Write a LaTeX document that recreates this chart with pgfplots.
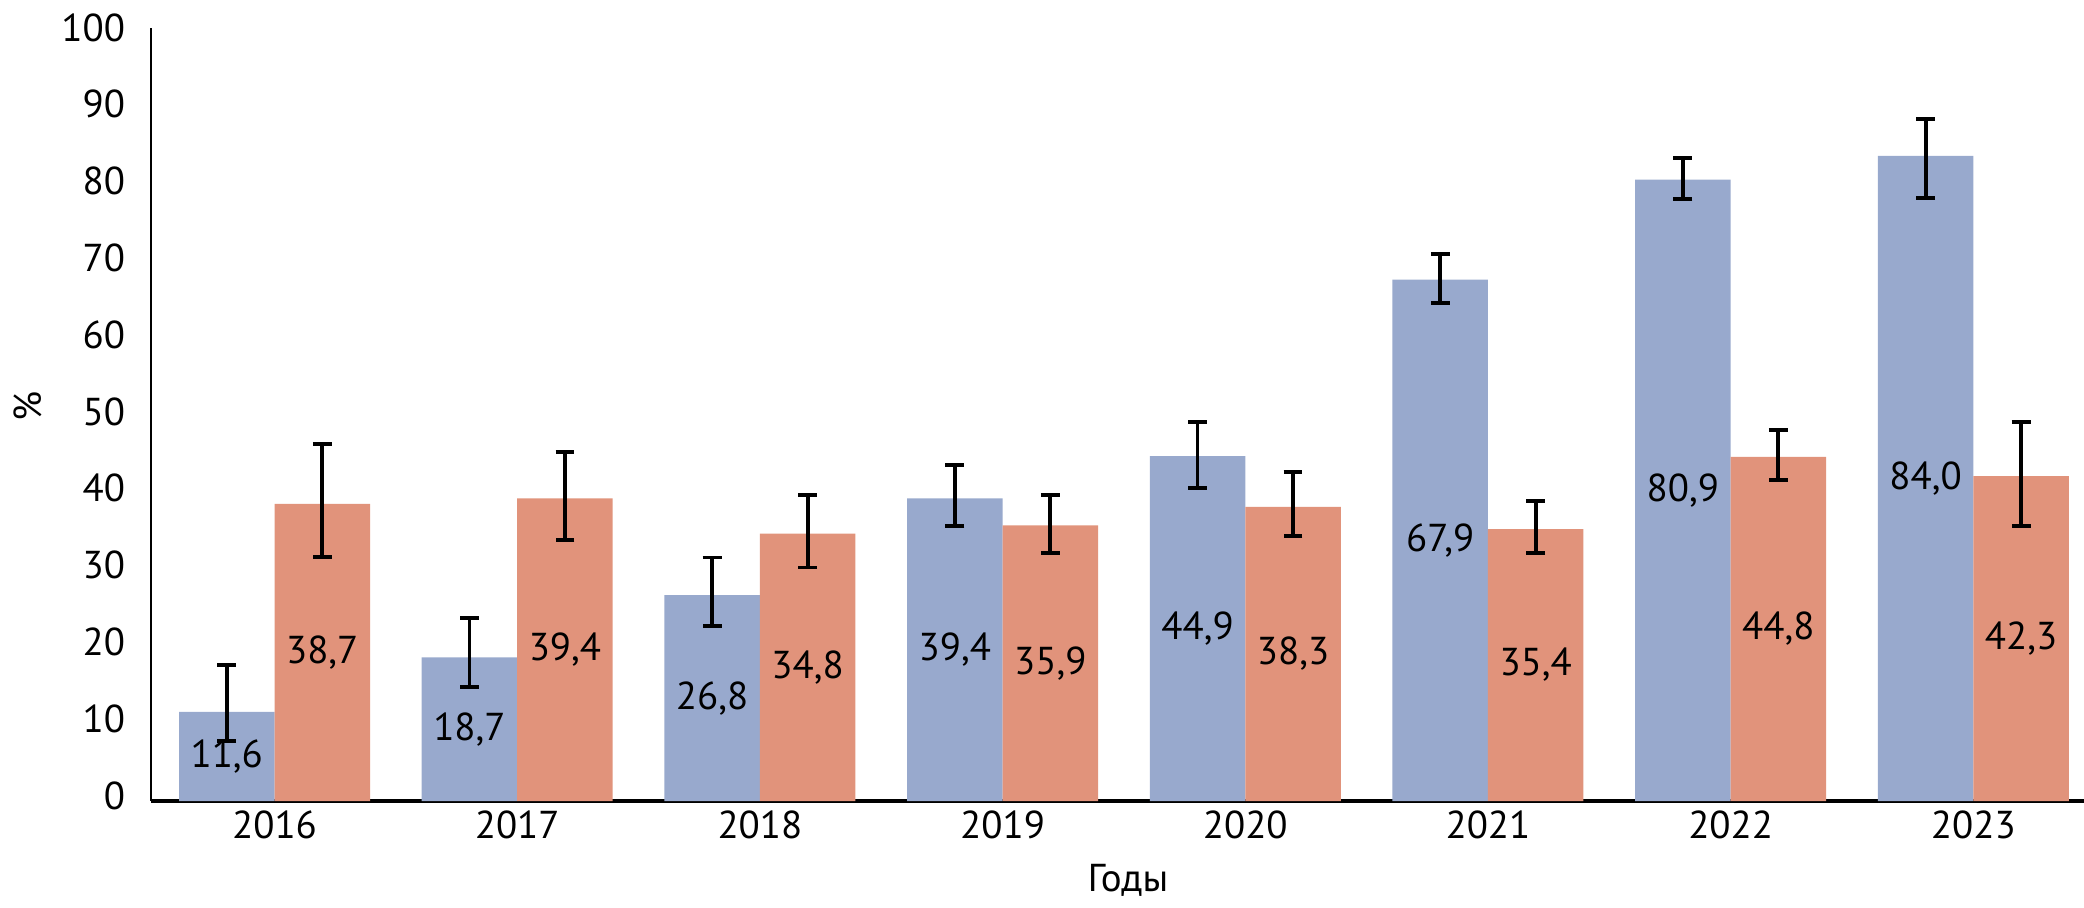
\documentclass[border=0pt]{standalone}
\usepackage{pgfplots}
\pgfplotsset{compat=1.18}
\usepackage{pgfplotstable}
\usepackage{fontspec}
\setmainfont{PT Sans}
\definecolor{barblue}{RGB}{152,169,205}
\definecolor{barorange}{RGB}{225,147,123}

\pgfplotstableread{
x a ap am b bp bm
0 11.6 6.1 3.8 38.7 7.8 6.9
1 18.7 5.1 3.9 39.4 6.0 5.4
2 26.8 4.9 4.0 34.8 5.1 4.4
3 39.4 4.3 3.6 35.9 4.0 3.6
4 44.9 4.4 4.1 38.3 4.5 3.8
5 67.9 3.3 3.1 35.4 3.7 3.1
6 80.9 2.8 2.5 44.8 3.5 3.0
7 84.0 4.8 5.5 42.3 7.1 6.5
}\data

\begin{document}
\begin{tikzpicture}
\begin{axis}[
  scale only axis,
  width=695.88pt, height=278.28pt,
  xmin=-0.509, xmax=7.456,
  ymin=0, ymax=100.65,
  ybar, bar width=0.3935,
  axis x line*=bottom, axis y line*=left,
  x axis line style={line width=1.1pt, -},
  y axis line style={line width=0.75pt, -},
  major tick length=0pt,
  xtick={0,...,7},
  xticklabels={2016,2017,2018,2019,2020,2021,2022,2023},
  ytick={0,10,...,100},
  /pgf/number format/assume math mode=true,
  tick label style={font=\fontsize{14}{17}\selectfont},
  yticklabel style={xshift=-5.8pt, yshift=2pt},
  xlabel={Годы},
  ylabel={\%},
  every axis x label/.style={at={(axis description cs:0.5,0)}, xshift=3.8pt, yshift=-28.4pt, anchor=center, font=\fontsize{14}{17}\selectfont},
  every axis y label/.style={at={(axis description cs:0,0.51)}, xshift=-44.3pt, rotate=90, anchor=center, font=\fontsize{14}{17}\selectfont},
  visualization depends on=rawy \as \rawy,
  nodes near coords={\pgfmathprintnumber[fixed, fixed zerofill, precision=1, use comma, assume math mode=true]{\pgfplotspointmeta}},
  nodes near coords style={anchor=center, text=black, font=\fontsize{14}{17}\selectfont, yshift=-\rawy*1.38245pt},
  error bars/y dir=both, error bars/y explicit,
  error bars/error bar style={line width=1.4pt, black},
  error bars/error mark options={rotate=90, mark size=3.4pt, line width=1.4pt, black},
  clip=false,
]
\addplot[bar shift=-0.19675, fill=barblue, draw=none, point meta=\thisrow{a}]
  table[x=x, y=a, y error plus=ap, y error minus=am]{\data};
\addplot[bar shift=0.19675, fill=barorange, draw=none, point meta=\thisrow{b}]
  table[x=x, y=b, y error plus=bp, y error minus=bm]{\data};
\end{axis}
\pgfresetboundingbox
\path ([shift={(-54.36pt,-38.52pt)}]current axis.south west) rectangle ([shift={(695.88pt,288.36pt)}]current axis.south west);
\end{tikzpicture}
\end{document}
